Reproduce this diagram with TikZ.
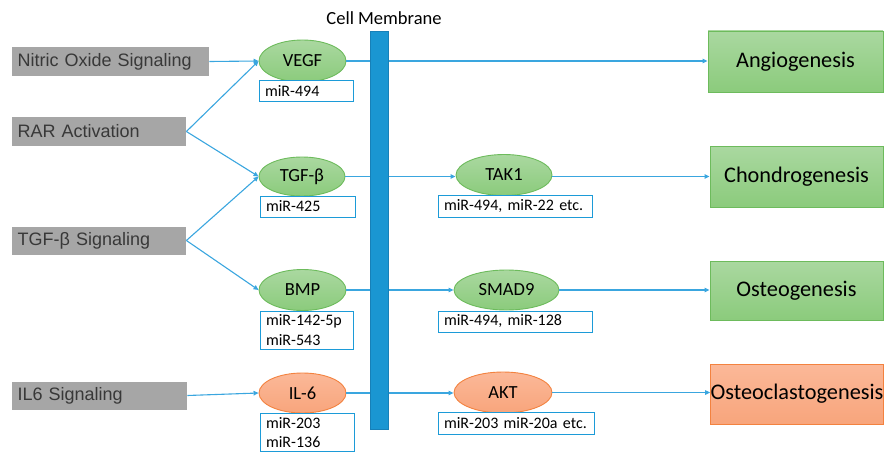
\documentclass[tikz,border=0pt]{standalone}
\usepackage{fontspec}
\setmainfont{Carlito}
\newfontfamily\arialf{Liberation Sans}
\usetikzlibrary{arrows.meta,shapes.geometric}
\definecolor{lineblue}{HTML}{3AA6DF}
\definecolor{membfill}{HTML}{1A96D2}
\definecolor{membdraw}{HTML}{1780B8}
\definecolor{graybox}{HTML}{A6A6A6}
\definecolor{graytext}{HTML}{383838}
\definecolor{gtop}{HTML}{AAD8A0}
\definecolor{gbot}{HTML}{8BCB7C}
\definecolor{gdraw}{HTML}{6DBB5C}
\definecolor{otop}{HTML}{FBB898}
\definecolor{obot}{HTML}{F8A57C}
\definecolor{odraw}{HTML}{F3823F}
\definecolor{mirblue}{HTML}{1C9BD8}
\begin{document}
\begin{tikzpicture}[x=1pt,y=-1pt,
  source/.style={fill=graybox,draw=none,anchor=west,inner xsep=5.5pt,inner ysep=0pt,
    align=left,font=\arialf\fontsize{18}{20}\selectfont,text=graytext},
  gell/.style={ellipse,draw=gdraw,line width=0.9pt,top color=gtop,bottom color=gbot,
    inner sep=0pt,font=\fontsize{18.5}{20}\selectfont},
  oell/.style={ellipse,draw=odraw,line width=0.9pt,top color=otop,bottom color=obot,
    inner sep=0pt,font=\fontsize{18.5}{20}\selectfont},
  mirbox/.style={draw=mirblue,line width=0.9pt,fill=white,inner xsep=6pt,inner ysep=0pt,
    align=left,font=\fontsize{16}{19.5}\selectfont},
  gres/.style={draw=gdraw,line width=0.9pt,top color=gtop,bottom color=gbot,inner sep=0pt,
    font=\fontsize{22.3}{26}\selectfont},
  ores/.style={draw=odraw,line width=0.9pt,top color=otop,bottom color=obot,inner sep=0pt,
    font=\fontsize{22.3}{26}\selectfont},
  conn/.style={draw=lineblue,line width=1.1pt,-{Triangle[length=5pt,width=4.5pt]}}
]
\useasboundingbox (0,0) rectangle (884,452);

% sources
\node[source,text width=186pt,minimum height=29pt] (no) at (12,61.5) {Nitric Oxide Signaling};
\node[source,text width=163pt,minimum height=29pt] (rar) at (12,131.5) {RAR Activation};
\node[source,text width=163pt,minimum height=28pt] (tgfs) at (12,240.5) {TGF-β Signaling};
\node[source,text width=164pt,minimum height=28pt] (il6s) at (12,395.5) {IL6 Signaling};

% receptors
\node[gell,minimum width=87pt,minimum height=42pt] (vegf) at (302.5,61) {VEGF};
\node[gell,minimum width=86pt,minimum height=39pt] (tgf) at (302,176.5) {TGF-β};
\node[gell,minimum width=87pt,minimum height=41pt] (bmp) at (302.5,290) {BMP};
\node[oell,minimum width=87pt,minimum height=40pt] (il6) at (302.5,393) {IL-6};

% intracellular
\node[gell,minimum width=96pt,minimum height=41pt] (tak) at (504,175) {TAK1};
\node[gell,minimum width=105pt,minimum height=40pt] (smad) at (506.5,290) {SMAD9};
\node[oell,minimum width=98pt,minimum height=41pt] (akt) at (503,392.5) {AKT};

% results
\node[gres,minimum width=175pt,minimum height=61pt] (ang) at (795.5,61.5) {Angiogenesis};
\node[gres,minimum width=173pt,minimum height=61pt] (cho) at (796.5,176.5) {Chondrogenesis};
\node[gres,minimum width=173pt,minimum height=59pt] (ost) at (796.5,290.5) {Osteogenesis};
\node[ores,minimum width=172pt,minimum height=60pt] (ocl) at (797,394) {Osteoclastogenesis};

% connectors
\draw[conn] (no.east) -- (vegf.west);
\draw[conn] (rar.east) -- (vegf.west);
\draw[conn] (rar.east) -- (tgf.west);
\draw[conn] (tgfs.east) -- (tgf.west);
\draw[conn] (tgfs.east) -- (bmp.west);
\draw[conn] (il6s.east) -- (il6.west);
\draw[conn] (vegf.east) -- (vegf.east -| ang.west);
\draw[conn] (tgf.east) -- (tgf.east -| tak.west);
\draw[conn] (tak.east |- tgf.east) -- (tgf.east -| cho.west);
\draw[conn] (bmp.east) -- (smad.west);
\draw[conn] (smad.east) -- (smad.east -| ost.west);
\draw[conn] (il6.east) -- (il6.east -| akt.west);
\draw[conn] (akt.east) -- (akt.east -| ocl.west);

% membrane
\node[draw=membdraw,fill=membfill,line width=0.6pt,minimum width=18pt,minimum height=398pt,inner sep=0pt] (memb) at (379,230) {};
\node[font=\fontsize{18.5}{21}\selectfont,anchor=south] (membl) at (384,28) {Cell Membrane};

% miRNA boxes
\node[mirbox,text width=82pt,minimum height=21pt] (m1) at (306,90.5) {miR-494};
\node[mirbox,text width=83pt,minimum height=21pt] (m2) at (307.5,206.5) {miR-425};
\node[mirbox,text width=81pt,minimum height=38pt] (m3) at (306.5,330) {miR-142-5p\\miR-543};
\node[mirbox,text width=82pt,minimum height=38pt] (m4) at (307,432.5) {miR-203\\miR-136};
\node[mirbox,text width=142pt,minimum height=22pt] (m5) at (515,206) {miR-494, miR-22 etc.};
\node[mirbox,text width=142pt,minimum height=21pt] (m6) at (515,321.5) {miR-494, miR-128};
\node[mirbox,text width=144pt,minimum height=22pt] (m7) at (516,423) {miR-203 miR-20a etc.};
\end{tikzpicture}
\end{document}
